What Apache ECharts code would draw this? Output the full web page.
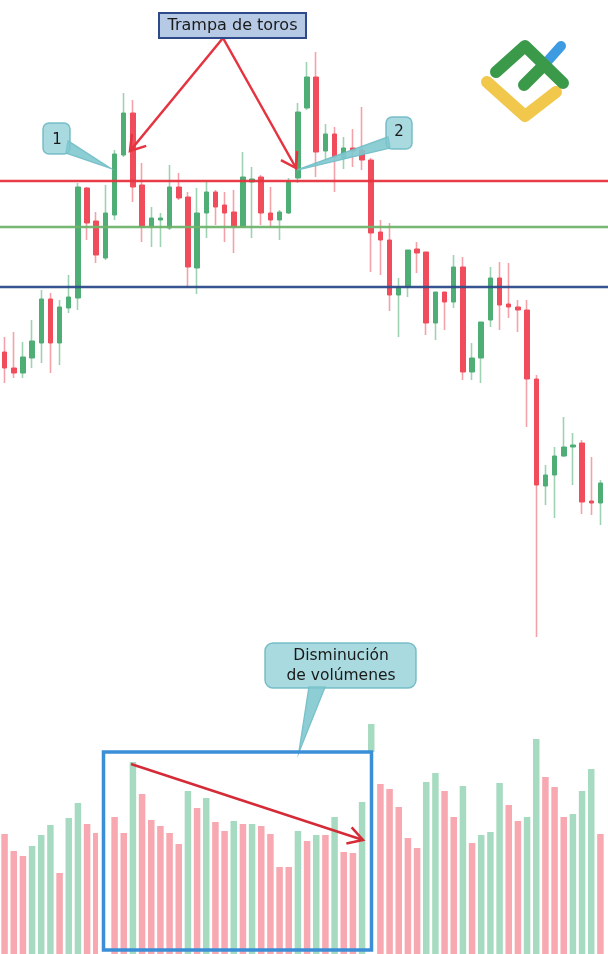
<!DOCTYPE html>
<html><head><meta charset="utf-8">
<script src="https://cdn.jsdelivr.net/npm/echarts@6/dist/echarts.min.js"></script>
<style>html,body{margin:0;padding:0;background:#fff}#c{width:608px;height:954px}</style>
</head><body><div id="c"></div>
<script>
// ---- data (price in points, volume in units) ----
const categories = Array.from({length: 66}, (_, i) => 'D' + (i + 1));
const open  = [348,332,327,342,357,401,357,392,402,512,479,442,485,545,587,515,473,480,472,513,503,432,487,508,495,488,473,518,523,487,480,487,522,592,623,549,566,542,552,550,540,468,460,405,413,451,448,377,408,398,433,328,342,380,422,396,393,390,321,214,225,244,253,257,199,197];
const close = [332,327,343,359,401,357,393,403,513,477,445,487,546,587,513,473,482,482,513,502,433,487,508,493,487,473,523,521,487,480,488,518,588,623,548,566,543,552,549,540,467,460,405,413,450,447,377,408,398,433,328,342,378,422,395,393,390,321,215,225,244,253,255,198,197,217];
const low   = [317,322,322,332,337,327,335,387,390,460,437,440,480,543,498,458,453,453,470,500,413,406,462,475,458,447,472,462,475,473,460,486,517,590,523,540,508,531,533,530,428,425,389,363,403,427,365,360,370,392,320,320,317,373,370,382,368,273,63,195,182,243,215,186,185,175];
const high  = [363,368,358,380,410,407,400,425,517,513,488,515,550,607,600,537,493,487,535,527,508,512,518,510,508,510,548,533,525,513,490,522,597,638,648,576,573,563,571,593,542,480,477,422,450,458,448,408,408,445,443,357,378,433,438,437,400,400,325,235,253,283,267,260,243,220];
const volume   = [120,103,98,108,119,129,81,136,151,130,121,125,137,121,192,160,134,128,121,110,163,146,156,132,123,133,130,130,128,120,87,87,123,113,119,119,137,102,101,152,230,170,165,147,116,106,172,181,163,137,168,111,119,122,171,149,133,137,215,177,167,137,140,163,185,120];
const volumeUp = [0,0,0,1,1,1,0,1,1,0,0,1,0,0,1,0,0,0,0,0,1,0,1,0,0,1,0,1,0,0,0,0,1,0,1,0,1,0,0,1,1,0,0,0,0,0,1,1,0,0,1,0,1,1,1,0,0,1,1,0,0,0,1,1,1,0];
const levelValues = [519, 473, 413];            // resistance, middle, support
const levelColors = ['#e5333f', '#6fb36c', '#2b4c8a'];

const UP = '#4fad76', DOWN = '#f04c5b', UP_W = '#9dd2b2', DOWN_W = '#f4a1a9';
const VOL_UP = '#a7dbc1', VOL_DOWN = '#f7a8b0';

const wickData = open.map((o, i) => [o, close[i], low[i], high[i]]);
const bodyData = open.map((o, i) => [o, close[i], Math.min(o, close[i]), Math.max(o, close[i])]);
const volData = volume.map((v, i) => ({value: v, itemStyle: {color: volumeUp[i] ? VOL_UP : VOL_DOWN}}));

const chart = echarts.init(document.getElementById('c'), null, {renderer: 'canvas'});
const option = {
  animation: false,
  backgroundColor: '#ffffff',
  grid: [
    {left: -2, right: 3, top: 0, height: 700},
    {left: -2, right: 3, top: 700, bottom: 0}
  ],
  xAxis: [
    {type: 'category', data: categories, gridIndex: 0, show: false, boundaryGap: true},
    {type: 'category', data: categories, gridIndex: 1, show: false, boundaryGap: true}
  ],
  yAxis: [
    {type: 'value', gridIndex: 0, min: 0, max: 700, show: false, splitLine: {show: false}},
    {type: 'value', gridIndex: 1, min: 0, max: 254, show: false, splitLine: {show: false}}
  ],
  series: [
    {type: 'candlestick', xAxisIndex: 0, yAxisIndex: 0, data: wickData, barWidth: 0.8,
     itemStyle: {color: UP_W, color0: DOWN_W, borderColor: UP_W, borderColor0: DOWN_W, borderWidth: 1.6}},
    {type: 'candlestick', xAxisIndex: 0, yAxisIndex: 0, data: bodyData, barWidth: 5,
     itemStyle: {color: UP, color0: DOWN, borderColor: UP, borderColor0: DOWN, borderWidth: 1}},
    {type: 'bar', xAxisIndex: 1, yAxisIndex: 1, data: volData, barWidth: 6.5}
  ]
};
chart.setOption(option);

// ---- annotations ----
const FAMILY = '"DejaVu Sans", Verdana, sans-serif';
const g = [];
function txt(x, y, s, size) {
  return {type: 'text', z: 60, style: {text: s, x: x, y: y, font: (size || 15) + 'px ' + FAMILY, fill: '#1a1a1a',
    align: 'center', textAlign: 'center', verticalAlign: 'middle', textVerticalAlign: 'middle'}};
}
function arrow(x1, y1, x2, y2, color, w, len, ang) {
  const a = Math.atan2(y1 - y2, x1 - x2), r = ang * Math.PI / 180;
  const p1 = [x2 + len * Math.cos(a + r), y2 + len * Math.sin(a + r)];
  const p2 = [x2 + len * Math.cos(a - r), y2 + len * Math.sin(a - r)];
  return [
    {type: 'polyline', z: 50, shape: {points: [[x1, y1], [x2, y2]]}, style: {stroke: color, lineWidth: w, fill: null}},
    {type: 'polyline', z: 50, shape: {points: [p1, [x2, y2], p2]}, style: {stroke: color, lineWidth: w, fill: null, lineJoin: 'miter'}}
  ];
}
function callout(box, tri, fill, stroke) {
  return [
    {type: 'polygon', z: 40, shape: {points: tri}, style: {fill: fill, stroke: stroke, lineWidth: 1.5}},
    {type: 'rect', z: 41, shape: {x: box[0], y: box[1], width: box[2], height: box[3], r: box[4]}, style: {fill: fill, stroke: stroke, lineWidth: 1.5}},
    {type: 'polygon', z: 42, shape: {points: tri}, style: {fill: fill, stroke: null}}
  ];
}

// horizontal levels
levelValues.forEach((v, i) => {
  const y = chart.convertToPixel({yAxisIndex: 0}, v);
  g.push({type: 'line', z: 30, shape: {x1: 0, y1: y, x2: 608, y2: y}, style: {stroke: levelColors[i], lineWidth: 2.5, opacity: 0.95}});
});

// title box + arrows
g.push(...arrow(223, 38, 130, 151, '#e5333f', 2.5, 17, 33));
g.push(...arrow(223, 38, 296, 168, '#e5333f', 2.5, 17, 33));
g.push({type: 'rect', z: 55, shape: {x: 159, y: 13, width: 147, height: 25}, style: {fill: '#b6cae6', stroke: '#2e4a8a', lineWidth: 2}});
g.push(txt(232.5, 25.5, 'Trampa de toros', 16));

// callouts 1 & 2
const CF = 'rgba(128,200,208,0.68)', CS = 'rgba(110,185,195,0.9)';
g.push(...callout([43, 123, 27, 31, 6], [[68, 141], [110, 168], [66, 153]], CF, CS));
g.push(txt(57, 140, '1', 15));
g.push(...callout([386, 117, 26, 32, 6], [[388, 137], [297, 170], [390, 148]], CF, CS));
g.push(txt(399, 132, '2', 15));

// volume box
g.push({type: 'line', z: 44, shape: {x1: 103.5, y1: 752, x2: 103.5, y2: 954}, style: {stroke: '#ffffff', lineWidth: 11}});
g.push({type: 'line', z: 44, shape: {x1: 371.5, y1: 752, x2: 371.5, y2: 954}, style: {stroke: '#ffffff', lineWidth: 11}});
g.push({type: 'rect', z: 45, shape: {x: 103.5, y: 752, width: 268, height: 198}, style: {fill: null, stroke: '#3a8fd7', lineWidth: 3.5}});
g.push(...arrow(131, 764, 363, 840, '#d42b37', 2.5, 17, 30));

// volume callout
g.push(...callout([265, 643, 151, 45, 8], [[309, 687], [299, 752], [325, 687]], CF, CS));
g.push(txt(341, 656, 'Disminución', 15.5));
g.push(txt(341, 676, 'de volúmenes', 15.5));

// logo
g.push({type: 'polyline', z: 70, shape: {points: [[545, 64], [561, 46]]}, style: {stroke: '#3d9be2', lineWidth: 10, lineCap: 'round', fill: null}});
g.push({type: 'polyline', z: 71, shape: {points: [[496, 72], [525, 46], [563, 83]]}, style: {stroke: '#3a9a4a', lineWidth: 12, lineCap: 'round', lineJoin: 'round', fill: null}});
g.push({type: 'polyline', z: 71, shape: {points: [[524, 85], [543, 66]]}, style: {stroke: '#3a9a4a', lineWidth: 12, lineCap: 'round', fill: null}});
g.push({type: 'polyline', z: 70, shape: {points: [[487, 82], [525, 116], [556, 92]]}, style: {stroke: '#f1c84c', lineWidth: 12, lineCap: 'round', lineJoin: 'round', fill: null}});

chart.setOption({graphic: {elements: g}});
</script>
</body></html>
